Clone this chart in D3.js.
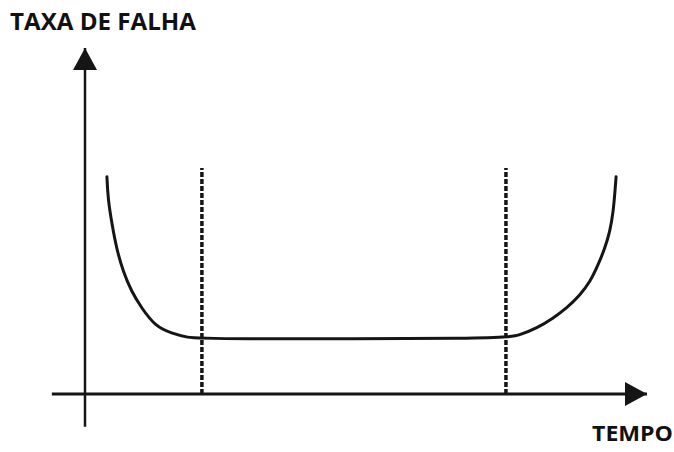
<!DOCTYPE html>
<html>
<head>
<meta charset="utf-8">
<script src="https://cdn.jsdelivr.net/npm/d3@7"></script>
<style>
  body { margin: 0; background: #fff; }
  text { font-family: 'Open Sans', 'Liberation Sans', sans-serif; font-weight: 700; fill: #111; }
</style>
</head>
<body>
<div class="vis"></div>
<script>
// bathtub curve (time / failure rate on 0-100 scales)
const yLabel = 'TAXA DE FALHA'
const xLabel = 'TEMPO'

const time = [3.9, 4.1, 4.8, 5.6, 6.8, 8.3, 10.1, 12.5, 15.4, 18.4, 20.5,
  74.9, 77.4, 80.4, 83.3, 85.7, 88.1, 89.9, 91.3, 92.5, 93.4, 94.0, 94.3, 94.5]
const rate = [62.8, 56.2, 49.1, 42.1, 35.3, 29.5, 24.8, 19.6, 17.5, 16.3, 15.9,
  15.9, 17.1, 19.0, 21.9, 24.8, 28.6, 32.5, 37.3, 42.1, 46.9, 52.7, 58.5, 62.8]

// phase boundaries (dashed verticals)
const phaseBounds = [20.8, 74.9]
const phaseTop = 65.3

const width = 674
const height = 452

const svg = d3.select('.vis')
  .append('svg')
  .attr('width', width)
  .attr('height', height)

const x = d3.scaleLinear().domain([0, 100]).range([85, 647])
const y = d3.scaleLinear().domain([0, 100]).range([394, 48])

const ink = '#151515'

// arrow heads
const defs = svg.append('defs')
defs.append('marker')
  .attr('id', 'arrow')
  .attr('viewBox', '0 0 22 24')
  .attr('refX', 22)
  .attr('refY', 12)
  .attr('markerWidth', 22)
  .attr('markerHeight', 24)
  .attr('markerUnits', 'userSpaceOnUse')
  .attr('orient', 'auto')
  .append('path')
  .attr('d', 'M0,0 L22,12 L0,24 Z')
  .attr('fill', ink)

// axes
svg.append('line')
  .attr('class', 'x axis')
  .attr('x1', x(-5.9))
  .attr('x2', x(100))
  .attr('y1', y(0))
  .attr('y2', y(0))
  .attr('stroke', ink)
  .attr('stroke-width', 3)
  .attr('marker-end', 'url(#arrow)')

svg.append('line')
  .attr('class', 'y axis')
  .attr('x1', x(0))
  .attr('x2', x(0))
  .attr('y1', y(-9.5))
  .attr('y2', y(100))
  .attr('stroke', ink)
  .attr('stroke-width', 2.5)
  .attr('marker-end', 'url(#arrow)')

// dashed phase lines
svg.selectAll('.phase')
  .data(phaseBounds)
  .enter()
  .append('line')
  .attr('class', 'phase')
  .attr('x1', d => x(d))
  .attr('x2', d => x(d))
  .attr('y1', y(0))
  .attr('y2', y(phaseTop))
  .attr('stroke', ink)
  .attr('stroke-width', 3.5)
  .attr('stroke-dasharray', '5,2')

// the curve
const points = time.map((t, i) => [t, rate[i]])
const line = d3.line()
  .x(d => x(d[0]))
  .y(d => y(d[1]))
  .curve(d3.curveBasis)

svg.append('path')
  .datum(points)
  .attr('d', line)
  .attr('fill', 'none')
  .attr('stroke', ink)
  .attr('stroke-width', 3)
  .attr('stroke-linecap', 'round')

// labels
svg.append('text')
  .attr('x', 10)
  .attr('y', 30)
  .attr('font-size', 23)
  .attr('textLength', 186)
  .attr('lengthAdjust', 'spacingAndGlyphs')
  .text(yLabel)

svg.append('text')
  .attr('x', 592)
  .attr('y', 441)
  .attr('font-size', 22)
  .attr('textLength', 81)
  .attr('lengthAdjust', 'spacingAndGlyphs')
  .text(xLabel)
</script>
</body>
</html>
